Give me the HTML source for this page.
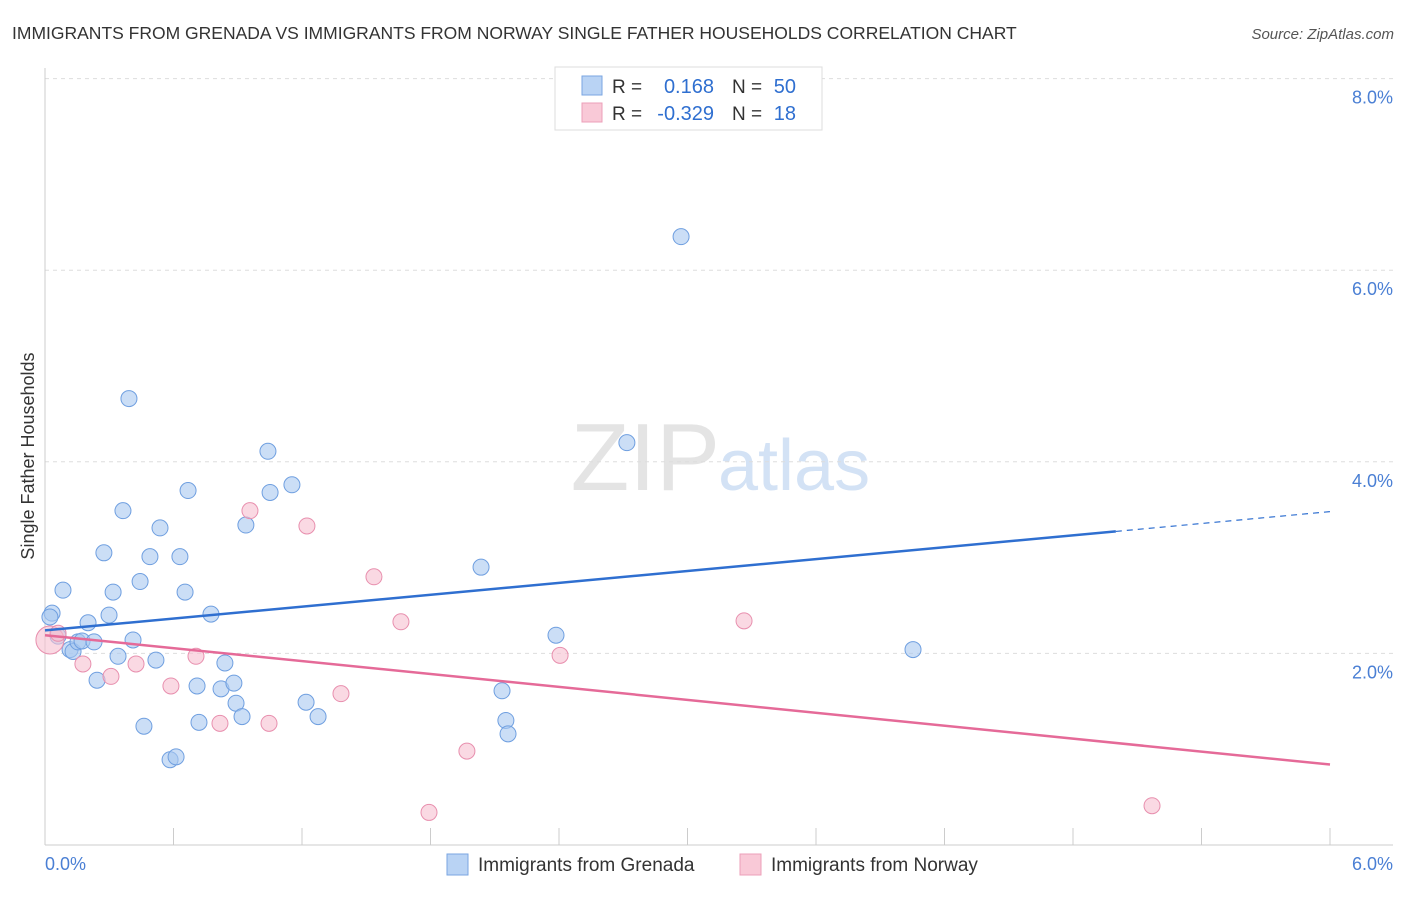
<!DOCTYPE html>
<html><head><meta charset="utf-8"><style>
body{margin:0;background:#fff;font-family:"Liberation Sans",sans-serif}
svg text{font-family:"Liberation Sans",sans-serif}
</style></head><body>
<svg width="1406" height="892" xmlns="http://www.w3.org/2000/svg">
<text x="12" y="39" font-size="17.5" fill="#333">IMMIGRANTS FROM GRENADA VS IMMIGRANTS FROM NORWAY SINGLE FATHER HOUSEHOLDS CORRELATION CHART</text>
<text x="1394" y="39" font-size="15" fill="#555" font-style="italic" text-anchor="end">Source: ZipAtlas.com</text>
<text x="720" y="490" font-size="96" fill="#e4e4e4" text-anchor="end" font-family="Liberation Serif">ZIP</text>
<text x="718" y="490" font-size="72" fill="#d3e2f5">atlas</text>
<g id="grid"></g>
<g id="axes"></g>
<text transform="translate(34,456) rotate(-90)" font-size="18" fill="#333" text-anchor="middle">Single Father Households</text>
<text x="45" y="870" font-size="18" fill="#4a7fd4">0.0%</text>
<text x="1393" y="870" font-size="18" fill="#4a7fd4" text-anchor="end">6.0%</text>
<g id="pts"></g>
<g id="lines"></g>
<g>
<rect x="555" y="67" width="267" height="63" fill="#fff" stroke="#ddd"/>
<rect x="582" y="76" width="20" height="19" fill="#b9d3f4" stroke="#7aa6e2"/>
<rect x="582" y="103" width="20" height="19" fill="#f9c9d7" stroke="#ec9fb8"/>
<text x="612" y="93" font-size="19" fill="#333">R =</text><text x="714" y="93" font-size="20" fill="#2f6fd0" text-anchor="end">0.168</text>
<text x="732" y="93" font-size="19" fill="#333">N =</text><text x="796" y="93" font-size="20" fill="#2f6fd0" text-anchor="end">50</text>
<text x="612" y="120" font-size="19" fill="#333">R =</text><text x="714" y="120" font-size="20" fill="#2f6fd0" text-anchor="end">-0.329</text>
<text x="732" y="120" font-size="19" fill="#333">N =</text><text x="796" y="120" font-size="20" fill="#2f6fd0" text-anchor="end">18</text>
</g>
<g><rect x="447" y="854" width="21" height="21" fill="#b9d3f4" stroke="#7aa6e2"/><text x="478" y="871" font-size="19" fill="#333">Immigrants from Grenada</text></g>
<g><rect x="740" y="854" width="21" height="21" fill="#f9c9d7" stroke="#ec9fb8"/><text x="771" y="871" font-size="19" fill="#333">Immigrants from Norway</text></g>
</svg>
<script>
const yTicks=[2,4,6,8];
const xTicks=[0,0.6,1.2,1.8,2.4,3.0,3.6,4.2,4.8,5.4,6.0];
const grenadaX=[0.033,0.023,0.084,0.061,0.117,0.131,0.154,0.173,0.201,0.229,0.243,0.275,0.299,0.318,0.341,0.364,0.392,0.411,0.444,0.462,0.490,0.518,0.537,0.584,0.612,0.630,0.654,0.668,0.710,0.719,0.775,0.822,0.840,0.882,0.892,0.920,0.938,1.041,1.051,1.153,1.219,1.275,2.036,2.134,2.152,2.162,2.386,2.717,2.970,4.053];
const grenadaY=[2.42,2.38,2.66,2.18,2.04,2.02,2.12,2.13,2.32,2.12,1.72,3.05,2.40,2.64,1.97,3.49,4.66,2.14,2.75,1.24,3.01,1.93,3.31,0.89,0.92,3.01,2.64,3.70,1.66,1.28,2.41,1.63,1.90,1.69,1.48,1.34,3.34,4.11,3.68,3.76,1.49,1.34,2.90,1.61,1.30,1.16,2.19,4.20,6.35,2.04];
const norwayX=[0.023,0.061,0.177,0.308,0.425,0.588,0.705,0.817,0.957,1.046,1.223,1.382,1.536,1.662,1.793,1.970,2.405,3.264,5.169];
const norwayY=[2.14,2.21,1.89,1.76,1.89,1.66,1.97,1.27,3.49,1.27,3.33,1.58,2.80,2.33,0.34,0.98,1.98,2.34,0.41];
const grenadaTrend=[2.24,3.48]; const grenadaSolidEnd=5.0;
const norwayTrend=[2.19,0.84];
const NS="http://www.w3.org/2000/svg";
const sx=v=>45+v/6*1285, sy=v=>845-v/2*191.6;
function mk(t,a,p){const e=document.createElementNS(NS,t);for(const k in a)e.setAttribute(k,a[k]);document.getElementById(p).appendChild(e);return e;}
yTicks.forEach(t=>{
 const l=mk('line',{x1:45,x2:1393,y1:sy(t),y2:sy(t),stroke:'#ddd','stroke-dasharray':'4,4'},'grid');
 
 
 const tx=mk('text',{x:1393,y:sy(t)+25,'font-size':18,fill:'#4a7fd4','text-anchor':'end'},'grid');tx.textContent=t.toFixed(1)+'%';
 
 
});
mk('line',{x1:45,x2:45,y1:68,y2:845,stroke:'#ccc'},'axes');
mk('line',{x1:45,x2:1393,y1:845,y2:845,stroke:'#ccc'},'axes');
xTicks.forEach(t=>{const l=mk('line',{x1:sx(t),x2:sx(t),y1:828,y2:845,stroke:'#ccc'},'axes');
 
 });
function pts(X,Y,f,s,nm){X.forEach((x,i)=>{const c=mk('circle',{cx:sx(x),cy:sy(Y[i]),r:(nm==='norway-point'&&i===0)?14:8,fill:f,'fill-opacity':0.6,stroke:s,'stroke-width':1},'pts');
 
 });}
pts(grenadaX,grenadaY,'#a9c8f0','#6f9fe0','grenada-point');
pts(norwayX,norwayY,'#f7bfd0','#e88fae','norway-point');
const gs=x=>grenadaTrend[0]+(grenadaTrend[1]-grenadaTrend[0])*x/6;
let l1=mk('line',{x1:sx(0),y1:sy(gs(0)),x2:sx(grenadaSolidEnd),y2:sy(gs(grenadaSolidEnd)),stroke:'#2f6fd0','stroke-width':2.5},'lines');


let l2=mk('line',{x1:sx(grenadaSolidEnd),y1:sy(gs(grenadaSolidEnd)),x2:sx(6),y2:sy(gs(6)),stroke:'#2f6fd0','stroke-width':1.2,'stroke-dasharray':'6,5'},'lines');


let l3=mk('line',{x1:sx(0),y1:sy(norwayTrend[0]),x2:sx(6),y2:sy(norwayTrend[1]),stroke:'#e56a98','stroke-width':2.5},'lines');


</script>
</body></html>
